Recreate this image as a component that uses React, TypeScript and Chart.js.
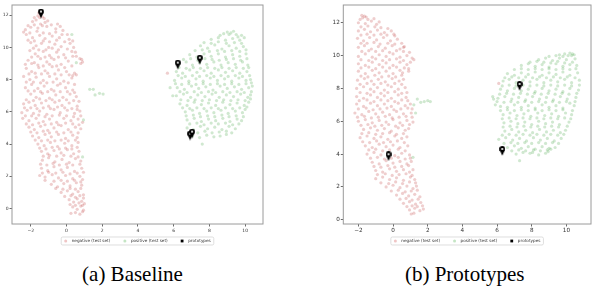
import React, { useEffect, useRef } from "react";
import { Chart, registerables } from "chart.js";

Chart.register(...registerables);

type P = [number, number];

const xTicks = [-2, 0, 2, 4, 6, 8, 10];
const yTicks = [0, 2, 4, 6, 8, 10, 12];
const legendLabels = ["negative (test set)", "positive (test set)", "prototypes"];
const captionA = "(a) Baseline";
const captionB = "(b) Prototypes";

// (a) Baseline
const negA: P[] = [
  [-1.55, 12.15], [-1.45, 12.05], [-1.6, 11.95], [-1.35, 11.9], [-1.5, 11.85], [-1.8, 11.85], [-1.25, 11.8],
  [-1.9, 11.6], [-1.7, 11.7], [-1.2, 11.55], [-1.05, 11.65], [-1.45, 11.45],
  [-2.15, 11.35], [-1.8, 11.4], [-1.35, 11.35], [-0.85, 11.4], [-0.5, 11.45],
  [-2.3, 11.1], [-2.0, 11.25], [-1.6, 11.2], [-1.1, 11.3], [-0.6, 11.15], [-0.2, 11.05], [-0.35, 11.3],
  [-2.4, 10.95], [-2.05, 10.9], [-1.65, 11.0], [-1.3, 10.9], [-0.95, 10.85], [-0.6, 10.95], [-0.25, 10.8],
  [-2.25, 10.8], [-1.9, 10.6], [-1.5, 10.75], [-1.2, 10.55], [-0.8, 10.7], [-0.4, 10.6], [0.05, 10.8], [0.15, 10.5],
  [-2.15, 10.45], [-1.8, 10.4], [-1.3, 10.4], [-0.95, 10.35], [-0.55, 10.45], [-0.1, 10.35], [0.35, 10.4],
  [-2.0, 10.3], [-1.7, 10.1], [-1.4, 10.25], [-1.0, 10.0], [-0.65, 10.2], [-0.3, 10.05], [0.2, 10.25], [0.4, 10.0],
  [-1.85, 9.95], [-1.55, 9.85], [-1.15, 9.85], [-0.8, 9.95], [-0.45, 9.85], [0.05, 9.9], [0.5, 9.7],
  [-2.05, 9.8], [-1.75, 9.6], [-1.3, 9.75], [-0.95, 9.5], [-0.55, 9.7], [-0.15, 9.55], [0.3, 9.75], [0.55, 9.45],
  [-1.95, 9.4], [-1.6, 9.45], [-1.2, 9.4], [-0.85, 9.35], [-0.45, 9.4], [-0.05, 9.35], [0.35, 9.45], [0.75, 9.3],
  [-2.15, 9.2], [-1.8, 9.05], [-1.45, 9.3], [-1.1, 9.1], [-0.7, 9.25], [-0.3, 8.95], [0.1, 9.15], [0.85, 9.25], [0.9, 9.1], [0.8, 9.0],
  [-2.3, 8.95], [-1.95, 9.0], [-1.6, 8.9], [-1.3, 8.85], [-0.95, 8.95], [-0.55, 8.85], [-0.1, 8.75], [0.3, 8.85],
  [-2.25, 8.7], [-1.95, 8.5], [-1.55, 8.75], [-1.2, 8.55], [-0.8, 8.8], [-0.45, 8.6], [0.0, 8.5], [0.45, 8.4], [0.55, 8.3], [0.35, 8.25],
  [-2.1, 8.35], [-1.75, 8.4], [-1.4, 8.35], [-1.05, 8.4], [-0.65, 8.35], [-0.3, 8.3], [0.15, 8.3],
  [-2.4, 8.2], [-2.05, 8.0], [-1.7, 8.15], [-1.3, 7.95], [-0.95, 8.2], [-0.55, 8.05], [-0.15, 7.9], [0.3, 8.1],
  [-2.25, 7.85], [-1.85, 7.85], [-1.45, 7.8], [-1.1, 7.8], [-0.75, 7.85], [-0.35, 7.75], [0.1, 7.8], [0.45, 7.7],
  [-2.3, 7.5], [-1.95, 7.7], [-1.6, 7.45], [-1.25, 7.6], [-0.85, 7.4], [-0.5, 7.65], [-0.05, 7.5], [0.35, 7.35],
  [-2.15, 7.3], [-1.8, 7.3], [-1.45, 7.25], [-1.05, 7.25], [-0.7, 7.3], [-0.35, 7.25], [0.05, 7.25], [0.45, 7.2],
  [-2.0, 7.1], [-1.7, 6.9], [-1.35, 7.15], [-0.95, 6.85], [-0.6, 7.05], [-0.2, 6.9], [0.2, 7.1], [0.55, 6.95],
  [-2.25, 6.75], [-1.85, 6.7], [-1.5, 6.8], [-1.15, 6.7], [-0.8, 6.75], [-0.4, 6.7], [0.0, 6.75], [0.4, 6.7], [0.7, 6.65],
  [-2.4, 6.5], [-2.1, 6.6], [-1.75, 6.4], [-1.4, 6.55], [-1.0, 6.35], [-0.65, 6.6], [-0.25, 6.4], [0.15, 6.55], [0.6, 6.35],
  [-2.35, 6.25], [-2.0, 6.25], [-1.65, 6.2], [-1.3, 6.25], [-0.9, 6.2], [-0.5, 6.3], [-0.1, 6.25], [0.3, 6.2], [0.6, 6.15],
  [-2.5, 5.95], [-2.2, 6.1], [-1.85, 5.9], [-1.5, 6.05], [-1.1, 5.85], [-0.7, 6.15], [-0.35, 5.95], [0.05, 6.1], [0.45, 5.9], [0.75, 6.05],
  [-2.3, 5.75], [-1.95, 5.75], [-1.55, 5.8], [-1.2, 5.7], [-0.8, 5.75], [-0.4, 5.8], [0.0, 5.75], [0.4, 5.7], [0.8, 5.75],
  [-2.45, 5.6], [-2.1, 5.45], [-1.7, 5.6], [-1.3, 5.4], [-0.95, 5.55], [-0.55, 5.35], [-0.15, 5.6], [0.25, 5.45], [0.65, 5.55], [0.9, 5.35],
  [-2.25, 5.25], [-1.9, 5.2], [-1.55, 5.3], [-1.2, 5.2], [-0.85, 5.25], [-0.45, 5.2], [-0.05, 5.3], [0.35, 5.25], [0.7, 5.2],
  [-2.1, 5.05], [-1.8, 4.9], [-1.45, 5.1], [-1.05, 4.85], [-0.7, 5.0], [-0.3, 5.15], [0.1, 4.9], [0.5, 5.05], [0.8, 4.95],
  [-2.0, 4.75], [-1.65, 4.7], [-1.3, 4.8], [-0.95, 4.7], [-0.55, 4.75], [-0.15, 4.7], [0.25, 4.75], [0.65, 4.7],
  [-1.9, 4.5], [-1.55, 4.4], [-1.2, 4.6], [-0.85, 4.45], [-0.45, 4.6], [-0.05, 4.35], [0.35, 4.55], [0.6, 4.4],
  [-1.75, 4.25], [-1.4, 4.2], [-1.05, 4.25], [-0.65, 4.2], [-0.3, 4.25], [0.1, 4.2], [0.5, 4.25],
  [-1.6, 4.0], [-1.25, 3.9], [-0.9, 4.1], [-0.5, 3.85], [-0.1, 4.05], [0.3, 3.9], [0.65, 4.1],
  [-1.5, 3.75], [-1.15, 3.7], [-0.8, 3.8], [-0.4, 3.7], [-0.05, 3.75], [0.3, 3.7], [0.6, 3.8],
  [-1.4, 3.55], [-1.05, 3.4], [-0.7, 3.6], [-0.3, 3.45], [0.05, 3.65], [0.4, 3.4], [0.7, 3.55],
  [-1.3, 3.25], [-0.95, 3.3], [-0.55, 3.25], [-0.15, 3.3], [0.25, 3.25], [0.65, 3.2],
  [-1.35, 3.0], [-1.0, 3.15], [-0.65, 2.9], [-0.25, 3.05], [0.15, 2.85], [0.5, 3.1], [0.8, 2.95],
  [-1.45, 2.75], [-1.1, 2.7], [-0.75, 2.8], [-0.4, 2.7], [0.0, 2.75], [0.35, 2.7], [0.75, 2.75],
  [-1.4, 2.5], [-1.05, 2.35], [-0.7, 2.6], [-0.3, 2.4], [0.05, 2.55], [0.45, 2.3], [0.85, 2.5],
  [-1.35, 2.2], [-1.0, 2.25], [-0.6, 2.2], [-0.2, 2.25], [0.2, 2.15], [0.6, 2.2], [0.95, 2.25],
  [-1.5, 2.05], [-1.2, 1.95], [-0.8, 2.1], [-0.45, 1.9], [-0.05, 2.05], [0.35, 1.85], [0.75, 2.0], [0.9, 1.8],
  [-1.2, 1.75], [-0.7, 1.7], [-0.3, 1.75], [0.05, 1.7], [0.45, 1.75], [0.8, 1.65],
  [-0.85, 1.5], [-0.5, 1.35], [-0.15, 1.55], [0.2, 1.4], [0.55, 1.6], [0.85, 1.45],
  [-0.6, 1.25], [-0.2, 1.2], [0.2, 1.25], [0.5, 1.2], [0.8, 1.25],
  [-0.3, 1.0], [0.05, 1.1], [0.35, 0.9], [0.65, 1.05], [0.95, 0.85],
  [-0.1, 0.75], [0.25, 0.8], [0.5, 0.7], [0.75, 0.8], [0.95, 0.65],
  [0.15, 0.55], [0.4, 0.4], [0.6, 0.6], [0.85, 0.45], [1.0, 0.3],
  [0.2, 0.25], [0.5, 0.2], [0.7, 0.35], [0.9, 0.2],
  [0.35, 0.1], [0.6, -0.05], [0.8, 0.15], [0.95, -0.1],
  [0.25, -0.3], [0.5, -0.25], [0.75, -0.35], [0.9, -0.2],
  [5.65, 8.4],
];

const posA: P[] = [
  [9.0, 10.95], [9.2, 10.9], [9.35, 11.0], [9.1, 10.8], [8.8, 10.85], [9.5, 10.8],
  [8.6, 10.75], [9.6, 10.65], [9.8, 10.75],
  [8.1, 10.5], [8.5, 10.6], [8.9, 10.45], [9.3, 10.55], [9.7, 10.45], [9.95, 10.6],
  [7.7, 10.3], [8.1, 10.25], [8.5, 10.35], [8.95, 10.25], [9.4, 10.3], [9.8, 10.25],
  [7.5, 10.1], [7.9, 9.95], [8.3, 10.15], [8.7, 9.9], [9.1, 10.1], [9.5, 9.95], [9.9, 10.05],
  [7.2, 9.8], [7.6, 9.85], [8.0, 9.75], [8.45, 9.8], [8.85, 9.75], [9.25, 9.8], [9.7, 9.75], [10.05, 9.85],
  [6.9, 9.55], [7.3, 9.4], [7.7, 9.6], [8.1, 9.45], [8.5, 9.6], [8.9, 9.4], [9.3, 9.55], [9.7, 9.45], [10.05, 9.6],
  [6.55, 9.25], [6.95, 9.3], [7.35, 9.2], [7.75, 9.3], [8.15, 9.25], [8.55, 9.2], [8.95, 9.25], [9.35, 9.3], [9.75, 9.2], [10.1, 9.3],
  [6.3, 9.0], [6.7, 9.1], [7.05, 8.9], [7.45, 9.05], [7.85, 8.95], [8.25, 9.1], [8.65, 8.9], [9.05, 9.05], [9.45, 8.95], [9.85, 9.1], [10.15, 8.9],
  [6.3, 8.75], [6.7, 8.7], [7.1, 8.75], [7.5, 8.7], [7.9, 8.75], [8.3, 8.7], [8.7, 8.75], [9.1, 8.7], [9.5, 8.75], [9.9, 8.7], [10.2, 8.75],
  [6.15, 8.5], [6.5, 8.4], [6.9, 8.6], [7.3, 8.45], [7.7, 8.55], [8.1, 8.4], [8.5, 8.6], [8.9, 8.45], [9.3, 8.55], [9.7, 8.4], [10.1, 8.5],
  [6.25, 8.25], [6.65, 8.2], [7.05, 8.25], [7.45, 8.2], [7.85, 8.25], [8.25, 8.2], [8.65, 8.25], [9.05, 8.2], [9.45, 8.25], [9.85, 8.2], [10.25, 8.25],
  [6.05, 7.95], [6.45, 8.1], [6.85, 7.9], [7.25, 8.05], [7.65, 7.9], [8.05, 8.1], [8.45, 7.95], [8.85, 8.05], [9.25, 7.9], [9.65, 8.1], [10.05, 7.95], [10.3, 8.0],
  [6.1, 7.75], [6.45, 7.7], [6.85, 7.75], [7.25, 7.7], [7.65, 7.75], [8.05, 7.7], [8.45, 7.75], [8.85, 7.7], [9.25, 7.75], [9.65, 7.7], [10.05, 7.75], [10.35, 7.8],
  [6.2, 7.5], [6.6, 7.4], [7.0, 7.6], [7.4, 7.45], [7.8, 7.55], [8.2, 7.35], [8.6, 7.6], [9.0, 7.45], [9.4, 7.55], [9.8, 7.4], [10.2, 7.5], [10.4, 7.6],
  [6.35, 7.25], [6.75, 7.2], [7.15, 7.25], [7.55, 7.2], [7.95, 7.25], [8.35, 7.2], [8.75, 7.25], [9.15, 7.2], [9.55, 7.25], [9.95, 7.2], [10.35, 7.25],
  [6.15, 7.0], [6.55, 7.1], [6.95, 6.9], [7.35, 7.05], [7.75, 6.95], [8.15, 7.1], [8.55, 6.9], [8.95, 7.05], [9.35, 6.95], [9.75, 7.1], [10.15, 6.9], [10.3, 7.05],
  [6.4, 6.75], [6.8, 6.7], [7.2, 6.75], [7.6, 6.7], [8.0, 6.75], [8.4, 6.7], [8.8, 6.75], [9.2, 6.7], [9.6, 6.75], [10.0, 6.7], [10.3, 6.8],
  [6.35, 6.5], [6.75, 6.4], [7.15, 6.6], [7.55, 6.45], [7.95, 6.55], [8.35, 6.4], [8.75, 6.6], [9.15, 6.45], [9.55, 6.55], [9.95, 6.4], [10.2, 6.6],
  [6.5, 6.25], [6.9, 6.2], [7.3, 6.25], [7.7, 6.2], [8.1, 6.25], [8.5, 6.2], [8.9, 6.25], [9.3, 6.2], [9.7, 6.25], [10.1, 6.3],
  [6.65, 6.0], [7.05, 6.1], [7.45, 5.9], [7.85, 6.05], [8.25, 5.95], [8.65, 6.1], [9.05, 5.9], [9.45, 6.05], [9.85, 5.95], [10.0, 6.15],
  [6.7, 5.75], [7.1, 5.8], [7.5, 5.7], [7.9, 5.75], [8.3, 5.7], [8.7, 5.8], [9.1, 5.7], [9.5, 5.75], [9.9, 5.7],
  [6.75, 5.5], [7.15, 5.6], [7.55, 5.4], [7.95, 5.55], [8.35, 5.45], [8.75, 5.6], [9.15, 5.4], [9.55, 5.55], [9.8, 5.45],
  [6.9, 5.25], [7.3, 5.3], [7.7, 5.2], [8.1, 5.3], [8.5, 5.25], [8.9, 5.3], [9.3, 5.2], [9.65, 5.25],
  [6.75, 5.0], [7.1, 4.9], [7.5, 5.1], [7.9, 4.95], [8.3, 5.05], [8.7, 4.9], [9.1, 5.1], [9.45, 4.95],
  [6.95, 4.75], [7.35, 4.7], [7.75, 4.8], [8.15, 4.7], [8.55, 4.75], [8.95, 4.8], [9.25, 4.7],
  [7.05, 4.5], [7.45, 4.4], [7.85, 4.55], [8.25, 4.45], [8.6, 4.5], [8.95, 4.6],
  [5.8, 7.5], [5.95, 7.0], [7.6, 4.0],
  [1.3, 7.4], [1.5, 7.4], [1.6, 7.05], [1.85, 7.15], [2.05, 7.1], [0.3, 10.8], [0.55, 9.05], [0.95, 5.5], [0.9, 3.2],
];

const protoA: P[] = [[-1.43, 12.1], [6.23, 8.93], [7.46, 9.24], [6.92, 4.53], [7.03, 4.65]];

// (b) Prototypes
const negB: P[] = [
  [-1.8, 12.45], [-1.65, 12.4], [-1.55, 12.35], [-1.75, 12.3],
  [-1.9, 12.2], [-1.45, 12.2], [-1.1, 12.25],
  [-2.0, 12.0], [-1.6, 11.95], [-1.25, 12.1], [-0.95, 11.9], [-0.8, 12.05],
  [-1.85, 11.75], [-1.45, 11.8], [-1.05, 11.75], [-0.7, 11.7], [-0.3, 11.65],
  [-2.0, 11.5], [-1.65, 11.6], [-1.3, 11.45], [-0.9, 11.55], [-0.5, 11.4], [-0.1, 11.5], [0.05, 11.3],
  [-1.85, 11.25], [-1.5, 11.3], [-1.1, 11.25], [-0.7, 11.3], [-0.35, 11.25], [0.1, 11.2],
  [-2.05, 11.05], [-1.7, 10.9], [-1.35, 11.1], [-0.95, 10.95], [-0.55, 11.1], [-0.15, 10.9], [0.25, 11.0],
  [-1.85, 10.75], [-1.5, 10.75], [-1.1, 10.8], [-0.75, 10.7], [-0.3, 10.75], [0.1, 10.7], [0.5, 10.75],
  [-2.0, 10.5], [-1.65, 10.6], [-1.25, 10.4], [-0.85, 10.55], [-0.45, 10.45], [-0.05, 10.6], [0.4, 10.4], [0.6, 10.5], [0.65, 10.55],
  [-1.8, 10.25], [-1.4, 10.3], [-1.0, 10.25], [-0.6, 10.3], [-0.2, 10.2], [0.2, 10.3], [0.6, 10.25], [0.95, 10.2],
  [-2.0, 9.95], [-1.6, 10.1], [-1.2, 9.9], [-0.8, 10.05], [-0.4, 9.95], [0.0, 10.1], [0.4, 9.9], [0.8, 10.0], [1.1, 9.85], [1.2, 9.75],
  [-1.85, 9.75], [-1.4, 9.7], [-1.0, 9.8], [-0.6, 9.7], [-0.2, 9.75], [0.2, 9.8], [0.6, 9.7],
  [-2.0, 9.5], [-1.6, 9.4], [-1.2, 9.6], [-0.8, 9.45], [-0.4, 9.55], [0.0, 9.4], [0.4, 9.6], [0.8, 9.45], [1.0, 9.6],
  [-1.85, 9.25], [-1.4, 9.3], [-1.0, 9.2], [-0.6, 9.3], [-0.2, 9.25], [0.2, 9.3], [0.65, 9.25], [0.9, 9.2],
  [-2.0, 9.05], [-1.6, 8.9], [-1.2, 9.1], [-0.8, 8.95], [-0.4, 9.05], [0.0, 8.9], [0.4, 9.1], [0.55, 8.95], [0.9, 9.05],
  [-1.85, 8.75], [-1.45, 8.7], [-1.05, 8.8], [-0.65, 8.7], [-0.25, 8.75], [0.15, 8.7], [0.5, 8.8],
  [-2.05, 8.5], [-1.65, 8.6], [-1.25, 8.45], [-0.85, 8.55], [-0.45, 8.4], [-0.05, 8.6], [0.35, 8.45], [0.6, 8.55],
  [-1.9, 8.25], [-1.5, 8.3], [-1.1, 8.25], [-0.7, 8.3], [-0.3, 8.2], [0.1, 8.3], [0.5, 8.25],
  [-2.1, 8.0], [-1.7, 8.1], [-1.3, 7.95], [-0.9, 8.05], [-0.5, 7.9], [-0.1, 8.1], [0.3, 7.95], [0.7, 8.05],
  [-1.9, 7.75], [-1.5, 7.7], [-1.1, 7.8], [-0.7, 7.7], [-0.3, 7.75], [0.1, 7.8], [0.5, 7.7], [0.8, 7.75],
  [-2.1, 7.5], [-1.7, 7.4], [-1.3, 7.6], [-0.9, 7.45], [-0.5, 7.55], [-0.1, 7.4], [0.3, 7.6], [0.75, 7.45],
  [-1.95, 7.25], [-1.5, 7.3], [-1.1, 7.2], [-0.7, 7.3], [-0.3, 7.25], [0.1, 7.2], [0.5, 7.3], [0.85, 7.25],
  [-2.1, 7.05], [-1.7, 6.9], [-1.3, 7.1], [-0.9, 6.95], [-0.5, 7.05], [-0.1, 6.9], [0.3, 7.1], [0.7, 6.95], [1.0, 7.05],
  [-2.0, 6.75], [-1.55, 6.8], [-1.15, 6.7], [-0.75, 6.75], [-0.35, 6.8], [0.05, 6.7], [0.45, 6.75], [0.85, 6.8], [1.1, 6.75],
  [-2.2, 6.5], [-1.8, 6.4], [-1.4, 6.6], [-1.0, 6.45], [-0.6, 6.55], [-0.2, 6.4], [0.2, 6.6], [0.6, 6.45], [1.05, 6.5],
  [-2.05, 6.25], [-1.65, 6.3], [-1.25, 6.2], [-0.85, 6.25], [-0.45, 6.3], [-0.05, 6.2], [0.35, 6.25], [0.75, 6.3], [1.1, 6.25],
  [-2.0, 6.0], [-1.6, 6.1], [-1.2, 5.9], [-0.8, 6.05], [-0.4, 5.95], [0.0, 6.1], [0.4, 5.9], [0.8, 6.05], [1.15, 5.95],
  [-1.85, 5.75], [-1.45, 5.8], [-1.05, 5.7], [-0.65, 5.75], [-0.25, 5.8], [0.15, 5.7], [0.55, 5.75], [0.95, 5.8],
  [-1.7, 5.5], [-1.3, 5.6], [-0.9, 5.45], [-0.5, 5.55], [-0.1, 5.4], [0.3, 5.6], [0.7, 5.45], [0.9, 5.55],
  [-1.8, 5.25], [-1.4, 5.3], [-1.0, 5.2], [-0.6, 5.25], [-0.2, 5.3], [0.2, 5.2], [0.6, 5.25],
  [-1.9, 5.0], [-1.5, 5.1], [-1.1, 4.95], [-0.7, 5.05], [-0.3, 4.9], [0.1, 5.1], [0.5, 4.95], [0.8, 5.05],
  [-1.75, 4.75], [-1.35, 4.7], [-0.95, 4.8], [-0.55, 4.7], [-0.15, 4.75], [0.25, 4.8], [0.65, 4.7],
  [-1.6, 4.5], [-1.2, 4.4], [-0.8, 4.6], [-0.4, 4.45], [0.0, 4.55], [0.4, 4.4], [0.85, 4.5],
  [-1.4, 4.25], [-1.0, 4.3], [-0.6, 4.2], [-0.2, 4.25], [0.3, 4.3], [0.7, 4.2],
  [-1.5, 4.0], [-1.1, 4.1], [-0.7, 3.95], [-0.3, 4.05], [0.1, 3.9], [0.5, 4.05], [0.95, 3.95],
  [-1.3, 3.75], [-0.9, 3.8], [-0.5, 3.7], [-0.1, 3.75], [0.3, 3.8], [0.7, 3.7], [1.0, 3.75],
  [-1.2, 3.5], [-0.8, 3.4], [-0.4, 3.6], [0.0, 3.45], [0.4, 3.55], [0.8, 3.4], [1.05, 3.55],
  [-1.1, 3.25], [-0.7, 3.2], [-0.3, 3.3], [0.1, 3.2], [0.5, 3.25], [0.9, 3.3],
  [-1.0, 3.0], [-0.6, 2.9], [-0.2, 3.1], [0.2, 2.95], [0.6, 3.05], [0.95, 2.9], [1.15, 3.05],
  [-0.9, 2.75], [-0.45, 2.8], [-0.05, 2.7], [0.35, 2.75], [0.75, 2.8], [1.1, 2.7],
  [-1.0, 2.5], [-0.6, 2.6], [-0.2, 2.45], [0.2, 2.55], [0.6, 2.4], [1.0, 2.6], [1.25, 2.45],
  [-0.7, 2.25], [-0.25, 2.2], [0.15, 2.3], [0.55, 2.2], [0.95, 2.3], [1.3, 2.25],
  [-0.4, 2.0], [0.0, 2.1], [0.4, 1.95], [0.8, 2.05], [1.15, 1.9], [1.35, 2.05],
  [-0.1, 1.75], [0.3, 1.8], [0.7, 1.7], [1.05, 1.75], [1.4, 1.8],
  [0.2, 1.5], [0.55, 1.6], [0.9, 1.45], [1.25, 1.55], [1.55, 1.4],
  [0.4, 1.25], [0.75, 1.3], [1.1, 1.2], [1.45, 1.25],
  [0.6, 1.0], [0.95, 1.1], [1.3, 0.95], [1.6, 1.05],
  [0.8, 0.8], [1.1, 0.85], [1.4, 0.8], [1.7, 0.85],
  [0.95, 0.6], [1.25, 0.7], [1.55, 0.55], [1.75, 0.65],
  [1.05, 0.35], [1.2, 0.4],
  [6.1, 8.3],
];

const posB: P[] = [
  [9.6, 10.05], [9.9, 10.1], [10.2, 10.15], [10.35, 10.1], [10.45, 10.05], [10.3, 10.0],
  [9.0, 9.95], [9.4, 10.0], [9.8, 9.95], [10.1, 10.0],
  [8.4, 9.75], [8.8, 9.85], [9.2, 9.7], [9.6, 9.85], [10.0, 9.75], [10.5, 9.8],
  [7.9, 9.6], [8.3, 9.65], [8.7, 9.6], [9.1, 9.55], [9.5, 9.65], [9.9, 9.55], [10.35, 9.6],
  [7.4, 9.4], [7.8, 9.5], [8.2, 9.35], [8.6, 9.45], [9.0, 9.3], [9.4, 9.5], [9.8, 9.35], [10.2, 9.45], [10.6, 9.4],
  [7.0, 9.15], [7.4, 9.2], [7.8, 9.15], [8.2, 9.2], [8.6, 9.15], [9.0, 9.2], [9.4, 9.15], [9.8, 9.2], [10.2, 9.15], [10.55, 9.2],
  [6.6, 8.9], [7.0, 8.8], [7.4, 8.95], [7.8, 8.85], [8.2, 9.0], [8.6, 8.8], [9.0, 8.95], [9.4, 8.85], [9.8, 9.0], [10.2, 8.8], [10.65, 8.95],
  [6.45, 8.65], [6.85, 8.7], [7.25, 8.65], [7.65, 8.7], [8.05, 8.65], [8.45, 8.7], [8.85, 8.65], [9.25, 8.7], [9.65, 8.65], [10.05, 8.7], [10.5, 8.65],
  [6.35, 8.45], [6.7, 8.55], [7.1, 8.35], [7.5, 8.5], [7.9, 8.4], [8.3, 8.55], [8.7, 8.35], [9.1, 8.5], [9.5, 8.4], [9.9, 8.55], [10.3, 8.35], [10.75, 8.5],
  [6.3, 8.15], [6.7, 8.2], [7.1, 8.15], [7.5, 8.2], [7.9, 8.15], [8.3, 8.2], [8.7, 8.15], [9.1, 8.2], [9.5, 8.15], [9.9, 8.2], [10.3, 8.15], [10.75, 8.2],
  [6.2, 7.95], [6.6, 7.85], [7.0, 8.0], [7.4, 7.85], [7.8, 7.95], [8.2, 7.8], [8.6, 8.0], [9.0, 7.85], [9.4, 7.95], [9.8, 7.8], [10.2, 8.0], [10.7, 7.9],
  [6.15, 7.65], [6.55, 7.7], [6.95, 7.65], [7.35, 7.7], [7.75, 7.65], [8.15, 7.7], [8.55, 7.65], [8.95, 7.7], [9.35, 7.65], [9.75, 7.7], [10.15, 7.65], [10.6, 7.7],
  [6.05, 7.4], [6.45, 7.5], [6.85, 7.35], [7.25, 7.45], [7.65, 7.3], [8.05, 7.5], [8.45, 7.35], [8.85, 7.45], [9.25, 7.3], [9.65, 7.5], [10.05, 7.35], [10.55, 7.45],
  [6.0, 7.2], [6.4, 7.15], [6.8, 7.2], [7.2, 7.15], [7.6, 7.2], [8.0, 7.15], [8.4, 7.2], [8.8, 7.15], [9.2, 7.2], [9.6, 7.15], [10.0, 7.2], [10.5, 7.2],
  [5.9, 7.0], [6.2, 6.9], [6.6, 6.85], [7.0, 7.0], [7.4, 6.85], [7.8, 6.95], [8.2, 6.8], [8.6, 7.0], [9.0, 6.85], [9.4, 6.95], [9.8, 6.8], [10.45, 6.95], [10.2, 7.1],
  [6.2, 6.65], [6.6, 6.7], [7.0, 6.65], [7.4, 6.7], [7.8, 6.65], [8.2, 6.7], [8.6, 6.65], [9.0, 6.7], [9.4, 6.65], [9.8, 6.7], [10.35, 6.65],
  [6.35, 6.4], [6.75, 6.5], [7.15, 6.35], [7.55, 6.45], [7.95, 6.3], [8.35, 6.5], [8.75, 6.35], [9.15, 6.45], [9.55, 6.3], [9.95, 6.5], [10.3, 6.4],
  [6.3, 6.15], [6.7, 6.2], [7.1, 6.15], [7.5, 6.2], [7.9, 6.15], [8.3, 6.2], [8.7, 6.15], [9.1, 6.2], [9.5, 6.15], [9.9, 6.2], [10.25, 6.15],
  [6.4, 5.9], [6.8, 6.0], [7.2, 5.85], [7.6, 5.95], [8.0, 5.8], [8.4, 6.0], [8.8, 5.85], [9.2, 5.95], [9.6, 5.8], [10.15, 5.95],
  [6.35, 5.65], [6.75, 5.7], [7.15, 5.65], [7.55, 5.7], [7.95, 5.65], [8.35, 5.7], [8.75, 5.65], [9.15, 5.7], [9.55, 5.65], [10.05, 5.7],
  [6.45, 5.4], [6.85, 5.5], [7.25, 5.35], [7.65, 5.45], [8.05, 5.3], [8.45, 5.5], [8.85, 5.35], [9.25, 5.45], [9.65, 5.3], [9.95, 5.45],
  [6.3, 5.15], [6.7, 5.2], [7.1, 5.15], [7.5, 5.2], [7.9, 5.15], [8.3, 5.2], [8.7, 5.15], [9.1, 5.2], [9.5, 5.15], [9.85, 5.2],
  [6.1, 4.9], [6.5, 5.0], [6.9, 4.85], [7.3, 4.95], [7.7, 4.8], [8.1, 5.0], [8.5, 4.85], [8.9, 4.95], [9.3, 4.8], [9.7, 4.95],
  [6.4, 4.65], [6.8, 4.7], [7.2, 4.65], [7.6, 4.7], [8.0, 4.65], [8.4, 4.7], [8.8, 4.65], [9.2, 4.7], [9.55, 4.65],
  [6.6, 4.4], [7.0, 4.5], [7.4, 4.35], [7.8, 4.45], [8.2, 4.3], [8.6, 4.45], [9.0, 4.35], [9.35, 4.4],
  [6.85, 4.2], [7.25, 4.25], [7.65, 4.2], [8.1, 4.25], [8.5, 4.2], [8.9, 4.25], [9.1, 4.3],
  [7.1, 4.0], [7.5, 4.1], [7.9, 4.05], [8.05, 4.1], [8.4, 3.95], [8.8, 4.05], [8.95, 4.15],
  [7.3, 3.6], [5.75, 7.5], [5.8, 7.35],
  [1.4, 7.35], [1.6, 7.15], [1.8, 7.2], [2.0, 7.25], [2.15, 7.2], [1.2, 7.0], [1.15, 3.8], [1.3, 6.5],
];

const protoB: P[] = [[-0.26, 3.87], [7.3, 8.15], [6.3, 4.19]];

const NEG_COLOR = "rgba(190, 60, 60, 0.25)";
const POS_COLOR = "rgba(40, 150, 40, 0.22)";
const SPINE = "#9a9a9a";
const FONT = "'DejaVu Sans', sans-serif";

function makePin(): HTMLCanvasElement {
  const c = document.createElement("canvas");
  c.width = 6;
  c.height = 10;
  const g = c.getContext("2d")!;
  g.fillStyle = "#000";
  g.beginPath();
  g.arc(3, 3, 2.9, 0, Math.PI * 2);
  g.fill();
  g.beginPath();
  g.moveTo(0.4, 4);
  g.lineTo(5.6, 4);
  g.lineTo(3, 9.8);
  g.closePath();
  g.fill();
  g.fillStyle = "#fff";
  g.beginPath();
  g.arc(3, 3, 1.1, 0, Math.PI * 2);
  g.fill();
  return c;
}

const framePlugin = {
  id: "frameBox",
  afterDatasetsDraw(chart: any) {
    const { left, right, top, bottom } = chart.chartArea;
    const ctx = chart.ctx;
    ctx.save();
    ctx.strokeStyle = SPINE;
    ctx.lineWidth = 1;
    ctx.strokeRect(left, top, right - left, bottom - top);
    ctx.restore();
  },
};

const legendPlugin = {
  id: "boxLegend",
  afterDraw(chart: any, _args: any, opts: any) {
    const ctx = chart.ctx;
    const { left, right } = chart.chartArea;
    ctx.save();
    ctx.font = `${opts.fontSize}px ${FONT}`;
    const mk = 3;
    const gapMT = 4.5;
    const gapItem = 13;
    const padX = 3;
    const items = chart.data.datasets.map((ds: any) => ({
      label: ds.label as string,
      color: ds.legendColor as string,
      square: !!ds.legendSquare,
    }));
    const widths = items.map((it: any) => mk + gapMT + ctx.measureText(it.label).width);
    const total = widths.reduce((a: number, b: number) => a + b, 0) + gapItem * (items.length - 1) + padX * 2;
    const x0 = (left + right) / 2 - total / 2;
    const cy = opts.y;
    const h = 8;
    ctx.fillStyle = "rgba(255,255,255,0.9)";
    ctx.strokeStyle = "#d0d0d0";
    ctx.lineWidth = 0.7;
    ctx.beginPath();
    (ctx as any).roundRect(x0, cy - h / 2, total, h, 1.5);
    ctx.fill();
    ctx.stroke();
    let x = x0 + padX;
    items.forEach((it: any, i: number) => {
      ctx.fillStyle = it.color;
      if (it.square) {
        ctx.fillRect(x, cy - 1.4, 2.8, 2.8);
      } else {
        ctx.beginPath();
        ctx.arc(x + mk / 2, cy, 1.5, 0, Math.PI * 2);
        ctx.fill();
      }
      ctx.fillStyle = "#333";
      ctx.textBaseline = "middle";
      ctx.textAlign = "left";
      ctx.fillText(it.label, x + mk + gapMT, cy + 0.3);
      x += widths[i] + gapItem;
    });
    ctx.restore();
  },
};

type PanelProps = {
  neg: P[];
  pos: P[];
  proto: P[];
  xMin: number;
  xMax: number;
  yMin: number;
  yMax: number;
  left: number;
  width: number;
  pad: { left: number; right: number; top: number; bottom: number };
  yAxisWidth: number;
  xAxisHeight: number;
  tickFont: number;
  xTickPad: number;
};

const fmt = (v: number | string) => String(v).replace("-", "\u2212");

function Panel(p: PanelProps) {
  const ref = useRef<HTMLCanvasElement | null>(null);
  useEffect(() => {
    if (!ref.current) return;
    const pin = makePin();
    const toXY = (arr: P[]) => arr.map(([x, y]) => ({ x, y }));
    const chart = new Chart(ref.current, {
      type: "scatter",
      data: {
        datasets: [
          {
            label: legendLabels[0],
            data: toXY(p.neg),
            backgroundColor: NEG_COLOR,
            borderWidth: 0,
            pointRadius: 1.6,
            order: 2,
            legendColor: "rgba(210, 90, 90, 0.35)",
          } as any,
          {
            label: legendLabels[1],
            data: toXY(p.pos),
            backgroundColor: POS_COLOR,
            borderWidth: 0,
            pointRadius: 1.6,
            order: 1,
            legendColor: "rgba(60, 170, 60, 0.3)",
          } as any,
          {
            label: legendLabels[2],
            data: toXY(p.proto),
            backgroundColor: "#000",
            pointStyle: pin,
            order: 0,
            legendColor: "#000",
            legendSquare: true,
          } as any,
        ],
      },
      options: {
        animation: false,
        responsive: false,
        maintainAspectRatio: false,
        events: [],
        layout: { padding: p.pad },
        plugins: {
          legend: { display: false },
          tooltip: { enabled: false },
          boxLegend: { fontSize: 4.2, y: 241 },
        } as any,
        scales: {
          x: {
            type: "linear",
            min: p.xMin,
            max: p.xMax,
            afterBuildTicks: (s: any) => {
              s.ticks = xTicks.map((v) => ({ value: v }));
            },
            afterFit: (s: any) => {
              s.height = p.xAxisHeight;
              s.paddingLeft = 0;
              s.paddingRight = 0;
              s.paddingTop = 0;
              s.paddingBottom = 0;
            },
            ticks: {
              callback: (v: any) => fmt(v),
              font: { size: p.tickFont, family: FONT },
              color: "#333",
              padding: p.xTickPad,
              maxRotation: 0,
              autoSkip: false,
            },
            grid: { drawOnChartArea: false, drawTicks: true, tickLength: 2.5, color: "#444", lineWidth: 0.8 },
            border: { display: false },
          },
          y: {
            type: "linear",
            min: p.yMin,
            max: p.yMax,
            afterBuildTicks: (s: any) => {
              s.ticks = yTicks.map((v) => ({ value: v }));
            },
            afterFit: (s: any) => {
              s.width = p.yAxisWidth;
              s.paddingLeft = 0;
              s.paddingRight = 0;
              s.paddingTop = 0;
              s.paddingBottom = 0;
            },
            ticks: {
              callback: (v: any) => fmt(v),
              font: { size: p.tickFont, family: FONT },
              color: "#333",
              padding: 1,
              autoSkip: false,
            },
            grid: { drawOnChartArea: false, drawTicks: true, tickLength: 2.5, color: "#444", lineWidth: 0.8 },
            border: { display: false },
          },
        },
      },
      plugins: [framePlugin, legendPlugin],
    });
    return () => chart.destroy();
  }, []);
  return (
    <canvas
      ref={ref}
      width={p.width}
      height={250}
      style={{ position: "absolute", left: p.left, top: 0, width: p.width, height: 250 }}
    />
  );
}

const captionStyle: React.CSSProperties = {
  position: "absolute",
  width: 200,
  textAlign: "center",
  fontFamily: "'Liberation Serif', 'Times New Roman', serif",
  fontSize: 21,
  lineHeight: "21px",
  color: "#000",
  whiteSpace: "nowrap",
};

export default function App() {
  return (
    <div style={{ position: "absolute", left: 0, top: 0, width: 596, height: 288, background: "#fff", overflow: "hidden" }}>
      <Panel
        neg={negA}
        pos={posA}
        proto={protoA}
        xMin={-3.05}
        xMax={11.0}
        yMin={-0.96}
        yMax={12.63}
        left={0}
        width={300}
        pad={{ left: 0, right: 37, top: 1, bottom: 16 }}
        yAxisWidth={12}
        xAxisHeight={10}
        tickFont={4.5}
        xTickPad={1.5}
      />
      <Panel
        neg={negB}
        pos={posB}
        proto={protoB}
        xMin={-2.87}
        xMax={11.42}
        yMin={-0.26}
        yMax={13.08}
        left={300}
        width={296}
        pad={{ left: 31, right: 0.7, top: 2, bottom: 16 }}
        yAxisWidth={12.3}
        xAxisHeight={10}
        tickFont={5.7}
        xTickPad={0.8}
      />
      <div style={{ ...captionStyle, left: 132.5 - 100, top: 264 }}>{captionA}</div>
      <div style={{ ...captionStyle, left: 464.7 - 100, top: 264 }}>{captionB}</div>
    </div>
  );
}
